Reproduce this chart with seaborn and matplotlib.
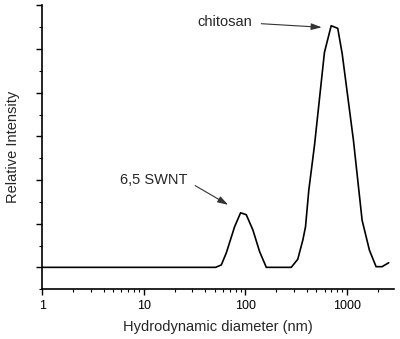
import numpy as np
import pandas as pd
import matplotlib
matplotlib.use("Agg")
import matplotlib.pyplot as plt
import matplotlib.ticker as mticker
import seaborn as sns

# DLS size distribution
diameter = [1, 50.8, 57.8, 64.8, 78.1, 89.5, 101.8, 118.3, 137.7, 160.3, 282,
            327, 367, 390, 420, 478, 599, 698, 810, 896, 1156, 1407, 1660,
            1932, 2213, 2570]
intensity = [0, 0, 0.11, 0.67, 1.86, 2.50, 2.41, 1.71, 0.72, 0, 0,
             0.37, 1.25, 1.86, 3.53, 5.59, 9.85, 11.07, 10.95, 9.78, 5.82,
             2.16, 0.79, 0.03, 0.03, 0.21]
x_ticks = [1, 10, 100, 1000]
x_tick_labels = ["1", "10", "100", "1000"]

df = pd.DataFrame({"d": diameter, "I": intensity})

sns.set_style("ticks")
plt.rcParams['font.family'] = ['Liberation Sans', 'DejaVu Sans']

fig = plt.figure(figsize=(4.0, 3.39), dpi=100)
ax = fig.add_axes([0.106, 0.147, 0.879, 0.837])

sns.lineplot(data=df, x="d", y="I", color="black", linewidth=1.2, sort=False, ax=ax)

ax.set_xscale("log")
ax.set_xlim(1, 2900)
ax.set_ylim(-1, 12)
ax.set_xticks(x_ticks)
ax.set_xticklabels(x_tick_labels)
ax.xaxis.set_minor_locator(mticker.LogLocator(base=10, subs=np.arange(2, 10)))
ax.xaxis.set_minor_formatter(mticker.NullFormatter())
ax.yaxis.set_major_locator(mticker.MultipleLocator(2))
ax.yaxis.set_minor_locator(mticker.MultipleLocator(1))
ax.set_yticklabels([])

ax.tick_params(which="major", direction="out", length=4, width=1, colors="black", labelsize=9)
ax.tick_params(which="minor", direction="out", length=2.5, width=0.8, colors="black")
ax.tick_params(axis="y", which="both", labelleft=False)
sns.despine(ax=ax)
for s in ["left", "bottom"]:
    ax.spines[s].set_color("black")
    ax.spines[s].set_linewidth(1.2)

ax.set_xlabel("Hydrodynamic diameter (nm)", fontsize=10.5, labelpad=6)
ax.set_ylabel("Relative Intensity", fontsize=10.5, labelpad=12)

# thin pointer arrows with narrow heads
arrow = dict(arrowstyle="-|>,head_length=0.7,head_width=0.22", color="#333333",
             lw=0.8, mutation_scale=9)
ax.text(117.5, 11.25, "chitosan", ha="right", va="center", fontsize=10.5)
ax.annotate("", xy=(600, 10.99), xytext=(134.5, 11.17), arrowprops=arrow)
ax.text(27.0, 3.99, "6,5 SWNT", ha="right", va="center", fontsize=10.5)
ax.annotate("", xy=(71.3, 2.80), xytext=(30.2, 3.81), arrowprops=arrow)

fig.savefig("out.png", dpi=100)
